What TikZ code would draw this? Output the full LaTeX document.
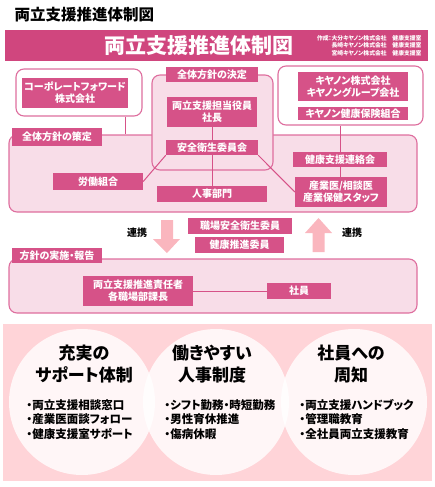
\documentclass[tikz,border=0pt]{standalone}
\usepackage{fontspec}
\setmainfont{Noto Sans CJK JP}[RawFeature=+palt]
\definecolor{rosa}{RGB}{214,82,136}
\definecolor{cinta}{RGB}{208,70,126}
\definecolor{borde}{RGB}{222,110,158}
\definecolor{claro}{RGB}{248,221,232}
\definecolor{fondo}{RGB}{255,212,216}
\definecolor{flecha}{RGB}{250,182,190}
\begin{document}
\begin{tikzpicture}[x=1pt,y=-1pt,
  caja/.style={fill=rosa,text=white,font=\bfseries\fontsize{10}{12}\selectfont,align=center,inner sep=0pt},
  marco/.style={draw=borde,line width=1.1pt,rounded corners=8pt,inner sep=0pt},
  enlace/.style={draw=rosa,line width=1pt},
  titulo/.style={font=\bfseries\fontsize{17}{22}\selectfont,align=center},
  lista/.style={font=\bfseries\fontsize{11.5}{14.5}\selectfont,align=left,anchor=west}]
\useasboundingbox (0,0) rectangle (435,487);
\node[font=\bfseries\fontsize{15.5}{18}\selectfont,anchor=west] (head) at (11,14.5) {両立支援推進体制図};
\node[fill=cinta,minimum width=423pt,minimum height=31pt,inner sep=0pt] (banner) at (216.5,45.5) {};
\node[text=white,font=\bfseries\fontsize{21}{24}\selectfont] (bannerTitle) at (199,46) {両立支援推進体制図};
\node[anchor=east,align=right,text=white,font=\bfseries\fontsize{5.8}{7.5}\selectfont] (credit) at (425,45.5) {作成：大分キヤノン株式会社　健康支援室\\長崎キヤノン株式会社　健康支援室\\宮崎キヤノン株式会社　健康支援室};
\node[marco,fill=claro,minimum width=408pt,minimum height=77pt] (planFrame) at (213,173.5) {};
\node[marco,fill=claro,minimum width=408pt,minimum height=54pt] (doFrame) at (213,286) {};
\node[marco,fill=white,minimum width=126pt,minimum height=47pt] (corpFrame) at (79,92.5) {};
\node[marco,fill=claro,minimum width=121pt,minimum height=95pt] (decideFrame) at (212.5,122.5) {};
\node[marco,fill=white,minimum width=145pt,minimum height=59pt] (canonFrame) at (350.5,95.5) {};
\node[caja,minimum width=90pt,minimum height=18pt] (tabPlan) at (57,137) {全体方針の策定};
\node[caja,minimum width=92pt,minimum height=15pt] (tabDecide) at (212,74.5) {全体方針の決定};
\node[caja,minimum width=90pt,minimum height=15pt] (tabDo) at (57,255.5) {方針の実施・報告};
\coordinate (corpLink) at ([xshift=-17pt]corpFrame.south east);
\draw[enlace] (corpLink) -- (corpLink |- planFrame.north);
\node[caja,minimum width=90pt,minimum height=30pt] (shacho) at (212,112) {両立支援担当役員\\社長};
\node[caja,minimum width=110pt,minimum height=16pt] (jinji) at (212,194) {人事部門};
\node[caja,minimum width=90pt,minimum height=17pt] (roudou) at (98,181.5) {労働組合};
\node[caja,minimum width=94pt,minimum height=15pt] (renraku) at (340,159.5) {健康支援連絡会};
\node[caja,minimum width=92pt,minimum height=30pt] (sangyoi) at (341,192) {産業医/相談医\\産業保健スタッフ};
\draw[enlace] (shacho.south) -- (jinji.north);
\draw[enlace] (renraku.north) -- (renraku.north |- canonFrame.south);
\draw[enlace] (renraku.south) -- (renraku.south |- sangyoi.north);
\node[caja,minimum width=92pt,minimum height=15pt] (anzen) at (212,147.5) {安全衛生委員会};
\draw[enlace] (anzen.south west) -- (roudou.east);
\draw[enlace] (anzen.south east) -- (sangyoi.west);
\node[caja,minimum width=106pt,minimum height=30pt] (corp) at (75,93) {コーポレートフォワード\\株式会社};
\node[caja,minimum width=110pt,minimum height=29pt] (canon) at (353,86.5) {キヤノン株式会社\\キヤノングループ会社};
\node[caja,minimum width=110pt,minimum height=13pt] (kenpo) at (353,113.5) {キヤノン健康保険組合};
\fill[flecha] (161,220) -- (173,220) -- (173,239) -- (180,239) -- (167,253) -- (153,239) -- (161,239) -- cycle;
\fill[flecha] (312.5,252) -- (324.5,252) -- (324.5,233) -- (332,233) -- (318.5,218) -- (305,233) -- (312.5,233) -- cycle;
\node[font=\bfseries\fontsize{10}{12}\selectfont] (renkeiL) at (137,233) {連携};
\node[font=\bfseries\fontsize{10}{12}\selectfont] (renkeiR) at (352,233) {連携};
\node[caja,minimum width=104pt,minimum height=16pt] (shokuba) at (240,226) {職場安全衛生委員};
\node[caja,minimum width=89pt,minimum height=16pt] (kenko) at (239.5,245) {健康推進委員};
\node[caja,minimum width=110pt,minimum height=30pt] (sekinin) at (138,291) {両立支援推進責任者\\各職場部課長};
\node[caja,minimum width=64pt,minimum height=16pt] (shain) at (299,291) {社員};
\draw[enlace] (sekinin.east) -- (shain.west);
\fill[fondo] (3,324) rectangle (432,481);
\fill[white,fill opacity=0.8] (82,402) circle[radius=73pt];
\fill[white,fill opacity=0.8] (216,402) circle[radius=73pt];
\fill[white,fill opacity=0.8] (354,402) circle[radius=73pt];
\node[titulo] (supportHead) at (84,364) {充実の\\サポート体制};
\node[titulo] (jinjiHead) at (212,364) {働きやすい\\人事制度};
\node[titulo] (shuchiHead) at (351,364) {社員への\\周知};
\node[lista] (supportList) at (23,419.5) {・両立支援相談窓口\\・産業医面談フォロー\\・健康支援室サポート};
\node[lista] (jinjiList) at (161,419.5) {・シフト勤務・時短勤務\\・男性育休推進\\・傷病休暇};
\node[lista] (shuchiList) at (296,419.5) {・両立支援ハンドブック\\・管理職教育\\・全社員両立支援教育};
\end{tikzpicture}
\end{document}
